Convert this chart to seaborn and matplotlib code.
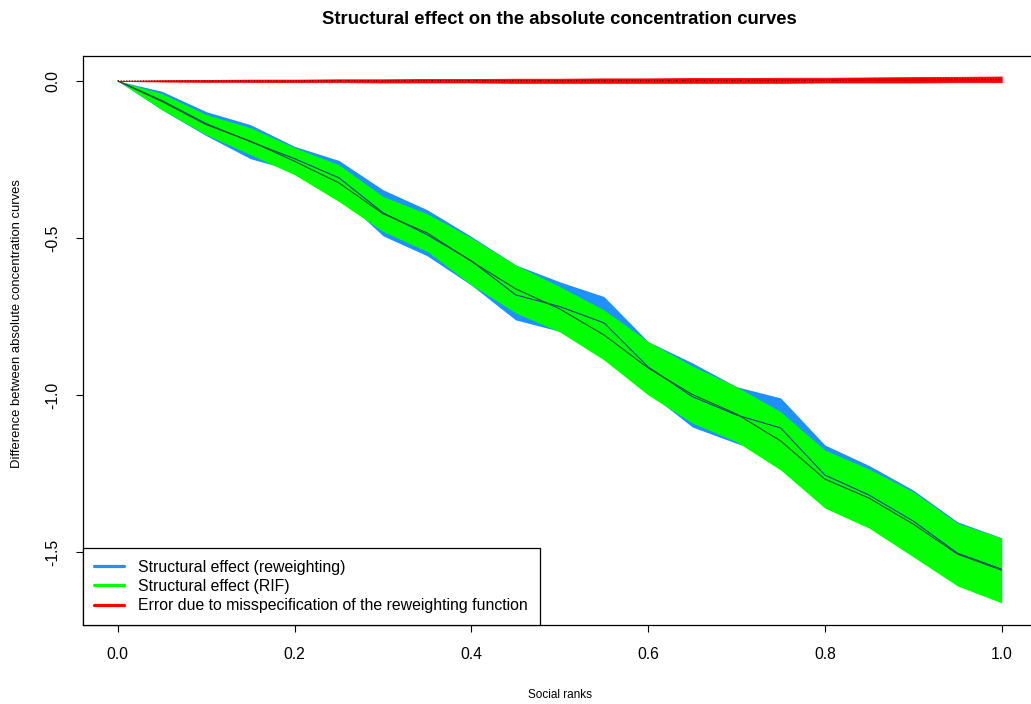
import numpy as np
import pandas as pd
import matplotlib
matplotlib.use("Agg")
import matplotlib.pyplot as plt
import seaborn as sns
from matplotlib.lines import Line2D

# ---- data ----
ranks = [0.00, 0.05, 0.10, 0.15, 0.20, 0.25, 0.30, 0.35, 0.40, 0.45, 0.50,
         0.55, 0.60, 0.65, 0.70, 0.75, 0.80, 0.85, 0.90, 0.95, 1.00]

rw_mid = [0.0, -0.0628, -0.1361, -0.1935, -0.2477, -0.3083, -0.4198, -0.4900, -0.5728, -0.6812, -0.7185,
          -0.7705, -0.9108, -1.0054, -1.0638, -1.1052, -1.2550, -1.3188, -1.4017, -1.5037, -1.5547]
rw_upper = [0.0, -0.0332, -0.0979, -0.1393, -0.2085, -0.2531, -0.3465, -0.4103, -0.4954, -0.5856, -0.6398,
            -0.6866, -0.8301, -0.8978, -0.9736, -1.0096, -1.1594, -1.2247, -1.3029, -1.4039, -1.4549]
rw_lower = [0.0, -0.0924, -0.1744, -0.2477, -0.2869, -0.3634, -0.4932, -0.5569, -0.6503, -0.7609, -0.7973,
            -0.8543, -0.9914, -1.1020, -1.1540, -1.2008, -1.3507, -1.4128, -1.5005, -1.6034, -1.6545]

rif_mid = [0.0, -0.0657, -0.1393, -0.1919, -0.2559, -0.3245, -0.4229, -0.4841, -0.5745, -0.6620, -0.7261,
           -0.8088, -0.9140, -0.9985, -1.0606, -1.1465, -1.2678, -1.3285, -1.4112, -1.5067, -1.5580]
rif_upper = [0.0, -0.0405, -0.1074, -0.1489, -0.2126, -0.2668, -0.3679, -0.4230, -0.4995, -0.5856, -0.6548,
             -0.7291, -0.8301, -0.9076, -0.9736, -1.0533, -1.1754, -1.2360, -1.3083, -1.4081, -1.4559]
rif_lower = [0.0, -0.0915, -0.1712, -0.2349, -0.2987, -0.3838, -0.4794, -0.5432, -0.6494, -0.7386, -0.7992,
             -0.8884, -1.0000, -1.0893, -1.1489, -1.2391, -1.3602, -1.4240, -1.5155, -1.6080, -1.6622]

err_mid = [0.0, 0.0, 0.0, 0.0005, 0.0, 0.0005, 0.0, 0.001, 0.001, 0.001, 0.001,
           0.001, 0.001, 0.0015, 0.0015, 0.002, 0.002, 0.003, 0.003, 0.004, 0.005]
err_upper = [0.0, 0.002, 0.003, 0.004, 0.004, 0.005, 0.005, 0.006, 0.006, 0.007, 0.007,
             0.008, 0.008, 0.009, 0.009, 0.010, 0.010, 0.011, 0.012, 0.013, 0.014]
err_lower = [0.0, -0.002, -0.003, -0.003, -0.004, -0.004, -0.005, -0.005, -0.005, -0.006, -0.006,
             -0.006, -0.006, -0.006, -0.006, -0.006, -0.005, -0.005, -0.005, -0.004, -0.004]

legend_labels = ["Structural effect (reweighting)",
                 "Structural effect (RIF)",
                 "Error due to misspecification of the reweighting function"]
x_ticks = [0.0, 0.2, 0.4, 0.6, 0.8, 1.0]
x_tick_labels = ["0.0", "0.2", "0.4", "0.6", "0.8", "1.0"]
y_ticks = [0.0, -0.5, -1.0, -1.5]
y_tick_labels = ["0.0", "-0.5", "-1.0", "-1.5"]

# ---- style ----
sns.set_theme(style="white")
plt.rcParams['font.family'] = ['Liberation Sans', 'DejaVu Sans']
plt.rcParams['text.color'] = 'black'
plt.rcParams['axes.labelcolor'] = 'black'
plt.rcParams['xtick.color'] = 'black'
plt.rcParams['ytick.color'] = 'black'

W, H = 1031, 704
fig = plt.figure(figsize=(W / 100, H / 100), dpi=100)
L, R, T, B = 82.5, 1037, 55.7, 625
ax = fig.add_axes([L / W, 1 - B / H, (R - L) / W, (B - T) / H])

C_BLUE = "#1E90FF"
C_GREEN = "#00FF00"
C_RED = "#FF0000"

df = pd.DataFrame({"rank": ranks, "rw": rw_mid, "rif": rif_mid, "err": err_mid})

ax.fill_between(ranks, rw_lower, rw_upper, color=C_BLUE, linewidth=0, zorder=1)
ax.fill_between(ranks, rif_lower, rif_upper, color=C_GREEN, linewidth=0, zorder=2)
ax.fill_between(ranks, err_lower, err_upper, color=C_RED, linewidth=0.6, edgecolor=C_RED, zorder=3)

sns.lineplot(data=df, x="rank", y="rw", ax=ax, color="#1f3a9e", linewidth=0.8, zorder=4)
sns.lineplot(data=df, x="rank", y="rif", ax=ax, color="#2f4f3a", linewidth=0.8, zorder=5)
sns.lineplot(data=df, x="rank", y="err", ax=ax, color="#5a0000", linewidth=0.8,
             linestyle=(0, (1, 1.5)), zorder=6)

ax.set_xlim(-0.04, 1.04)
ax.set_ylim(-1.7325, 0.0803)

ax.set_xticks(x_ticks)
ax.set_xticklabels(x_tick_labels, fontsize=11.3)
ax.set_yticks(y_ticks)
ax.set_yticklabels(y_tick_labels, fontsize=11.3, rotation=90, va="center")
ax.tick_params(axis="both", direction="out", length=5, width=0.8, color="black",
               labelcolor="black", bottom=True, left=True)
ax.tick_params(axis="x", pad=11)
ax.tick_params(axis="y", pad=11)

for s in ax.spines.values():
    s.set_visible(True)
    s.set_color("black")
    s.set_linewidth(0.9)

ax.set_xlabel("Social ranks", fontsize=8.5, labelpad=19)
ax.set_ylabel("Difference between absolute concentration curves", fontsize=9.4)
ax.yaxis.set_label_coords(-(L - 23) / (R - L), (B - 323.5) / (B - T))
ax.set_title("Structural effect on the absolute concentration curves",
             fontsize=13.3, fontweight="bold", pad=23, color="black")

handles = [Line2D([0], [0], color=C_BLUE, lw=2.3),
           Line2D([0], [0], color=C_GREEN, lw=2.3),
           Line2D([0], [0], color=C_RED, lw=2.3)]
leg = ax.legend(handles, legend_labels, loc="lower left", bbox_to_anchor=(0, 0),
                borderaxespad=0, fancybox=False, framealpha=1, edgecolor="black",
                fontsize=11.4, handlelength=1.9, handletextpad=0.85, labelspacing=0.27,
                borderpad=0.75)
leg.get_frame().set_linewidth(0.9)
leg.set_zorder(10)

fig.savefig("out.png", dpi=100)
